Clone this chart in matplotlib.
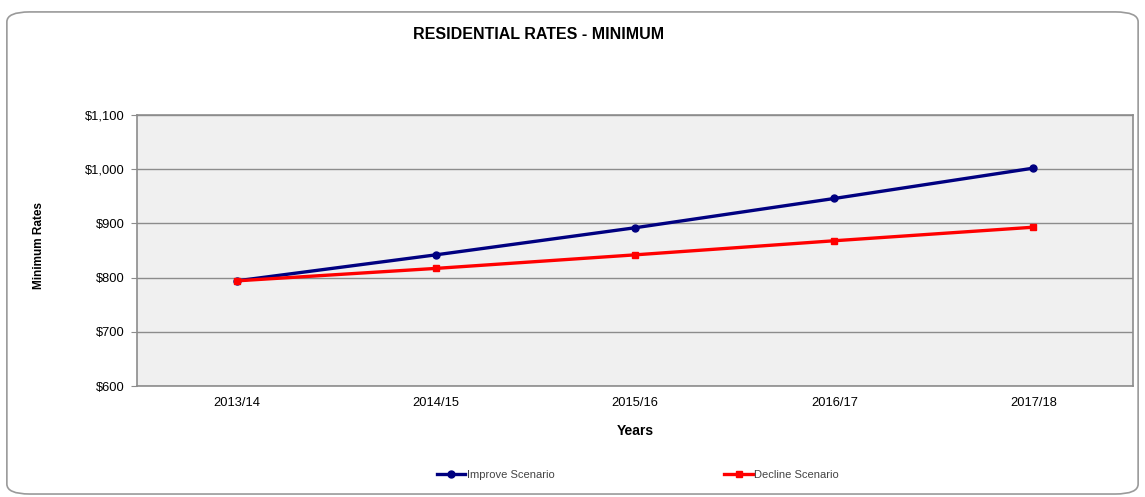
# _*_ coding: utf-8 _*_

"""
Draw residential minimum rates line chart.
"""

import matplotlib.pyplot as plt
from matplotlib.patches import FancyBboxPatch
from matplotlib.ticker import FuncFormatter

plt.rcParams['font.family'] = ['Liberation Sans', 'DejaVu Sans']

# chart data
years = ['2013/14', '2014/15', '2015/16', '2016/17', '2017/18']
improve = [794, 842, 892, 946, 1002]
decline = [794, 817, 842, 868, 893]

fig = plt.figure(figsize=(11.45, 4.97), dpi=100)

# rounded chart frame
frame = FancyBboxPatch((0.006, 0.006), 0.988, 0.97,
                       boxstyle='round,pad=0,rounding_size=0.02',
                       transform=fig.transFigure, facecolor='white',
                       edgecolor='#9a9a9a', linewidth=1.2, zorder=-1)
fig.patches.append(frame)

ax = fig.add_axes([0.1197, 0.2233, 0.8699, 0.5453])
ax.set_facecolor('#f0f0f0')

x = range(len(years))
ax.plot(x, improve, color='#000080', lw=2.4, marker='o', ms=5,
        label='Improve Scenario', zorder=3)
ax.plot(x, decline, color='#ff0000', lw=2.4, marker='s', ms=5,
        label='Decline Scenario', zorder=3)

# axes and grid
ax.set_xlim(-0.5, len(years) - 0.5)
ax.set_ylim(600, 1100)
ax.set_yticks(range(600, 1101, 100))
ax.yaxis.set_major_formatter(FuncFormatter(lambda v, p: '${:,.0f}'.format(v)))
ax.set_xticks(list(x))
ax.set_xticklabels(years)
ax.grid(axis='y', color='#8c8c8c', lw=1)
ax.set_axisbelow(True)
for s in ax.spines.values():
    s.set_color('#8c8c8c')
    s.set_linewidth(1.2)
ax.tick_params(axis='y', length=4, color='#8c8c8c', labelsize=9.3, pad=5)
ax.tick_params(axis='x', length=0, labelsize=9.3, pad=8)

ax.set_xlabel('Years', fontsize=10, fontweight='bold', labelpad=11)
fig.text(0.034, 0.507, 'Minimum Rates', rotation=90, ha='center',
         va='center', fontsize=8.5, fontweight='bold')
fig.text(0.47, 0.93, 'RESIDENTIAL RATES - MINIMUM', ha='center',
         va='center', fontsize=11.5, fontweight='bold')

# legend
fig.legend(loc='center', bbox_to_anchor=(0.557, 0.045), ncol=2,
           frameon=False, fontsize=8, handlelength=2.6, handletextpad=0.1,
           columnspacing=15.3, labelcolor='#444444')

fig.savefig('out.png', dpi=100)
